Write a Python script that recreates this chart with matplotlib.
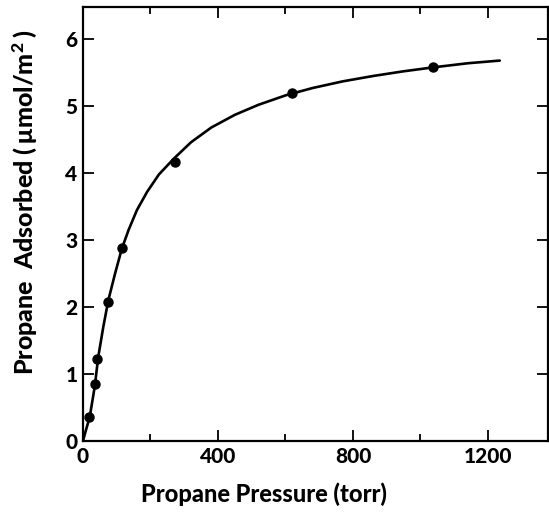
import matplotlib
matplotlib.use("Agg")
import matplotlib.pyplot as plt
from matplotlib.ticker import MultipleLocator

plt.rcParams['font.family'] = ['Lato', 'DejaVu Sans']
plt.rcParams['font.weight'] = 'black'
plt.rcParams['mathtext.default'] = 'regular'

# measured points (torr, umol/m^2)
p_pts = [18, 36, 41, 74, 116, 273, 619, 1037]
q_pts = [0.36, 0.85, 1.22, 2.08, 2.88, 4.17, 5.19, 5.58]

# fitted curve
p_fit = [0, 8, 20, 35, 45, 60, 75, 95, 115, 135, 160, 190, 225, 270, 320, 380, 450, 520, 600, 680,
         770, 860, 950, 1040, 1140, 1235]
q_fit = [0, 0.15, 0.36, 0.82, 1.25, 1.7, 2.1, 2.5, 2.87, 3.15, 3.45, 3.72, 3.98, 4.22, 4.46, 4.68,
         4.87, 5.02, 5.16, 5.27, 5.37, 5.45, 5.52, 5.58, 5.64, 5.68]

fig = plt.figure(figsize=(5.49, 5.16), dpi=100)
ax = fig.add_axes([83/549, 1-441/516, (548-83)/549, (441-7)/516])

ax.plot(p_fit, q_fit, color='black', lw=1.9, solid_capstyle='round', solid_joinstyle='round')
ax.plot(p_pts, q_pts, 'o', color='black', ms=6.5)

ax.set_xlim(0, 1378)
ax.set_ylim(0, 6.48)
ax.xaxis.set_major_locator(MultipleLocator(400))
ax.xaxis.set_minor_locator(MultipleLocator(200))
ax.yaxis.set_major_locator(MultipleLocator(1))
ax.tick_params(which='both', direction='in', top=True, right=True, width=1.3)
ax.tick_params(which='major', length=8, labelsize=15, pad=4)
ax.tick_params(which='minor', length=5)
for lbl in ax.get_xticklabels() + ax.get_yticklabels():
    lbl.set_fontweight('black')
for s in ax.spines.values():
    s.set_linewidth(1.6)

ax.set_xlabel('Propane Pressure (torr)', fontsize=17, fontweight='black')
ax.set_ylabel(r'Propane  Adsorbed $(\,\mu$mol/m$^2\,)$', fontsize=18, fontweight='black')
ax.xaxis.set_label_coords(0.39, -0.096)
ax.yaxis.set_label_coords(-0.095, 0.55)

fig.savefig('out.png', dpi=100)
